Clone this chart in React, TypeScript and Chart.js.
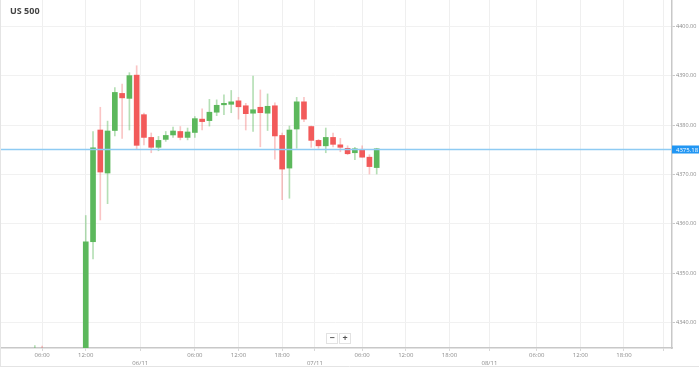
import React, { useEffect, useRef } from "react";
import { Chart, registerables } from "chart.js";

Chart.register(...registerables);

// ---- data ----
const slots = [-7, -6, 0, 1, 2, 3, 4, 5, 6, 7, 8, 9, 10, 11, 12, 13, 14, 15, 16, 17, 18, 19, 20, 21, 22, 23, 24, 25, 26, 27, 28, 29, 30, 31, 32, 33, 34, 35, 36, 37, 38, 39, 40];
const opens = [4325, 4332, 4328, 4356.4, 4379.0, 4370.3, 4378.9, 4386.4, 4385.4, 4390.1, 4382.1, 4377.5, 4375.5, 4377.1, 4378.0, 4378.7, 4377.5, 4378.5, 4381.2, 4380.9, 4382.6, 4384.1, 4384.2, 4384.9, 4383.9, 4382.4, 4383.6, 4382.4, 4383.9, 4377.9, 4371.3, 4379.2, 4384.7, 4379.7, 4376.9, 4375.8, 4377.5, 4376.0, 4375.3, 4374.4, 4375.1, 4373.5, 4371.4];
const highs = [4335.4, 4335.3, 4361.7, 4378.7, 4383.6, 4380.8, 4387.6, 4388.3, 4390.6, 4392.0, 4382.4, 4378.4, 4377.7, 4378.7, 4379.6, 4379.7, 4379.4, 4381.7, 4383.3, 4385.2, 4385.1, 4386.1, 4387.0, 4385.6, 4384.4, 4389.9, 4387.1, 4386.3, 4384.5, 4378.4, 4379.8, 4385.6, 4385.6, 4379.8, 4377.1, 4379.4, 4378.4, 4377.3, 4375.8, 4375.5, 4375.8, 4374.0, 4375.3];
const lows = [4322, 4326, 4325, 4352.9, 4360.8, 4364.1, 4377.8, 4377.3, 4379.0, 4375.1, 4376.0, 4374.4, 4374.8, 4376.7, 4377.5, 4377.0, 4377.0, 4377.5, 4379.0, 4379.8, 4381.9, 4382.1, 4382.5, 4381.2, 4379.0, 4378.7, 4375.6, 4378.9, 4373.1, 4364.9, 4365.2, 4375.3, 4380.7, 4375.5, 4375.3, 4374.4, 4375.6, 4374.6, 4374.0, 4373.0, 4373.5, 4370.1, 4370.1];
const closes = [4332, 4328, 4356.4, 4375.4, 4370.5, 4378.8, 4386.6, 4385.5, 4390.0, 4375.9, 4377.5, 4375.5, 4376.9, 4377.9, 4378.8, 4377.5, 4378.6, 4381.3, 4380.7, 4382.6, 4384.0, 4384.4, 4384.7, 4383.7, 4382.3, 4383.1, 4382.5, 4383.8, 4377.8, 4371.1, 4379.0, 4384.7, 4381.2, 4376.9, 4375.8, 4377.5, 4376.1, 4375.5, 4374.2, 4375.2, 4373.5, 4371.6, 4375.2];

const xTickPositions = [-6, 0, 7.5, 15, 21, 27, 31.5, 38, 44, 50, 55.5, 62, 68, 74, 79.5];
const xTickLabels = ["06:00", "12:00", "06/11", "06:00", "12:00", "18:00", "07/11", "06:00", "12:00", "18:00", "08/11", "06:00", "12:00", "18:00", ""];
const dateTicks = ["06/11", "07/11", "08/11"];
const yTickValues = [4340, 4350, 4360, 4370, 4380, 4390, 4400];

const currentPrice = 4375.18;
const currentPriceLabel = "4375.18";
const title = "US 500";

const GREEN = "#5cb85c";
const RED = "#f25a5a";
const GREEN_WICK = "rgba(92,184,92,0.45)";
const RED_WICK = "rgba(242,90,90,0.35)";

export default function App() {
  const canvasRef = useRef<HTMLCanvasElement | null>(null);

  useEffect(() => {
    document.body.style.margin = "0";
    const canvas = canvasRef.current;
    if (!canvas) return;

    const up = closes.map((c, i) => c >= opens[i]);
    const wickData = slots.map((s, i) => ({ x: s, y: [lows[i], highs[i]] }));
    const bodyData = slots.map((s, i) => ({ x: s, y: [opens[i], closes[i]] }));

    const priceLine = {
      id: "priceLine",
      afterDatasetsDraw(chart: any) {
        const { ctx, chartArea, scales } = chart;
        const y = Math.round(scales.y.getPixelForValue(currentPrice)) + 0.5;
        ctx.save();
        ctx.strokeStyle = "#8ecbf3";
        ctx.lineWidth = 1.5;
        ctx.beginPath();
        ctx.moveTo(chartArea.left, y);
        ctx.lineTo(chartArea.right, y);
        ctx.stroke();
        ctx.fillStyle = "#2196f3";
        ctx.fillRect(chartArea.right, y - 4, 27, 8);
        ctx.fillStyle = "#ffffff";
        ctx.font = "6px 'Open Sans', sans-serif";
        ctx.textBaseline = "middle";
        ctx.textAlign = "left";
        ctx.fillText(currentPriceLabel, chartArea.right + 4, y + 0.5);
        ctx.restore();
      },
      afterDraw(chart: any) {
        const { ctx, width, height } = chart;
        ctx.save();
        ctx.strokeStyle = "#e4e4e4";
        ctx.lineWidth = 1;
        ctx.beginPath();
        ctx.moveTo(0, height - 0.5);
        ctx.lineTo(width, height - 0.5);
        ctx.moveTo(0.5, 0);
        ctx.lineTo(0.5, height);
        ctx.stroke();
        ctx.restore();
      },
    };

    const chart = new Chart(canvas, {
      type: "bar",
      data: {
        datasets: [
          {
            label: "wick",
            data: wickData as any,
            backgroundColor: up.map((u) => (u ? GREEN_WICK : RED_WICK)),
            barThickness: 1,
            grouped: false,
            order: 2,
          } as any,
          {
            label: "body",
            data: bodyData as any,
            backgroundColor: up.map((u) => (u ? GREEN : RED)),
            barThickness: 5,
            minBarLength: 1,
            grouped: false,
            order: 1,
          } as any,
        ],
      },
      options: {
        animation: false,
        responsive: true,
        maintainAspectRatio: false,
        layout: { padding: 0 },
        plugins: {
          legend: { display: false },
          tooltip: { enabled: false },
          title: { display: false },
        },
        scales: {
          x: {
            type: "linear",
            min: -11.79,
            max: 80.6,
            offset: false,
            afterBuildTicks(scale: any) {
              scale.ticks = xTickPositions.map((v) => ({ value: v }));
            },
            afterFit(scale: any) {
              scale.height = 19;
              scale.paddingLeft = 0;
              scale.paddingRight = 0;
            },
            ticks: {
              autoSkip: false,
              maxRotation: 0,
              padding: 0,
              color: "#8a8a8a",
              font: { size: 6, family: "'Open Sans', sans-serif", lineHeight: 1.35 },
              callback(value: any) {
                const idx = xTickPositions.indexOf(Number(value));
                const lab = idx >= 0 ? xTickLabels[idx] : "";
                return dateTicks.includes(lab) ? ["", lab] : lab;
              },
            },
            grid: {
              offset: false,
              color: "#efefef",
              lineWidth: 1,
              tickLength: 3,
              tickColor: "#d8d8d8",
            },
            border: { color: "#c8c8c8", width: 1.5 },
          },
          y: {
            type: "linear",
            position: "right",
            min: 4334.9,
            max: 4405.3,
            afterBuildTicks(scale: any) {
              scale.ticks = yTickValues.map((v) => ({ value: v }));
            },
            afterFit(scale: any) {
              scale.width = 27;
              scale.paddingTop = 0;
              scale.paddingBottom = 0;
            },
            ticks: {
              padding: 1,
              color: "#8a8a8a",
              font: { size: 5.5, family: "'Open Sans', sans-serif" },
              callback(value: any) {
                return Number(value).toFixed(2);
              },
            },
            grid: {
              color: "#f1f1f1",
              lineWidth: 1,
              tickLength: 3,
              tickColor: "#c8c8c8",
            },
            border: { color: "#c8c8c8", width: 1.5 },
          },
        },
      },
      plugins: [priceLine],
    });

    return () => chart.destroy();
  }, []);

  const btn: React.CSSProperties = {
    width: 10,
    height: 9,
    background: "#fff",
    border: "1px solid #e2e2e2",
    fontSize: 9,
    lineHeight: "8px",
    textAlign: "center",
    color: "#555",
    fontFamily: "'Open Sans', sans-serif",
    fontWeight: 700,
  };

  return (
    <div style={{ position: "fixed", left: 0, top: 0, width: 699, height: 367, background: "#fff" }}>
      <canvas ref={canvasRef} />
      <div
        style={{
          position: "absolute",
          left: 10,
          top: 4,
          fontFamily: "'Open Sans', sans-serif",
          fontWeight: 700,
          fontSize: 9,
          color: "#444",
        }}
      >
        {title}
      </div>
      <div style={{ position: "absolute", left: 326, top: 333, display: "flex", gap: 1 }}>
        <div style={btn}>−</div>
        <div style={btn}>+</div>
      </div>
    </div>
  );
}
